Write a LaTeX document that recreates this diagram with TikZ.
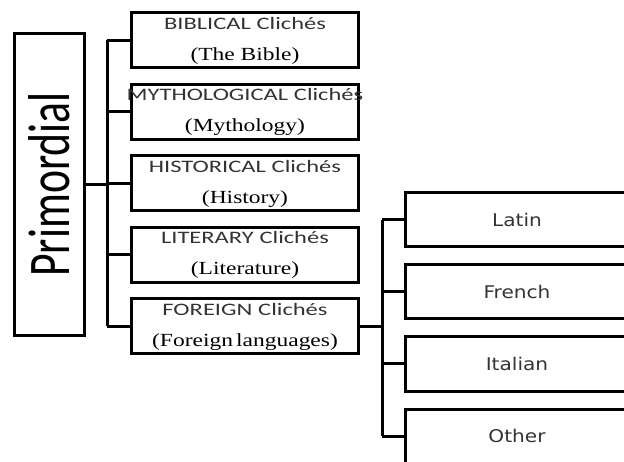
\documentclass[tikz,border=0pt]{standalone}
\usepackage{fontspec}
\setmainfont{Liberation Serif}
\newfontfamily\headfont[FakeStretch=1.4]{Carlito}
\newfontfamily\subfont[FakeStretch=1.27]{Liberation Serif}
\newfontfamily\langfont[FakeStretch=1.15]{DejaVu Sans}
\newfontfamily\primfont[FakeStretch=0.74]{Carlito}
\usetikzlibrary{positioning}

\begin{document}
\begin{tikzpicture}[
    x=1pt, y=-1pt,
    line width=3pt,
    node distance=13.5pt,
    root/.style  ={draw, minimum width=70pt, minimum height=302pt, inner sep=0pt},
    cat/.style   ={draw, text width=227pt, minimum height=55pt, inner sep=0pt,
                   align=center, font=\headfont\fontsize{17.5}{31}\selectfont\color{black!80}},
    lang/.style  ={draw, minimum width=223pt, minimum height=54pt, inner sep=0pt,
                   font=\langfont\fontsize{17.5}{20}\selectfont\color{black!80}},
    link/.style  ={line width=3pt},
  ]
  \useasboundingbox (0,0) rectangle (624,462);
  \clip (0,0) rectangle (624,462);

  % ------------------------------------------------------------- root ---
  \node[root] (prim) at (49.5,184.5)
        {\rotatebox{90}{\primfont\fontsize{59}{59}\selectfont Primordial}};

  % ------------------------------------------------------- categories ---
  \node[cat] (bib) at (245,40.5)
        {BIBLICAL Clichés\\{\subfont\fontsize{18.5}{31}\selectfont\color{black}(The Bible)}};
  \node[cat, below=of bib] (myth)
        {\hbox to 227pt{\hss MYTHOLOGICAL Clichés\hss}\\{\subfont\fontsize{18.5}{31}\selectfont\color{black}(Mythology)}};
  \node[cat, below=of myth] (hist)
        {HISTORICAL Clichés\\{\subfont\fontsize{18.5}{31}\selectfont\color{black}(History)}};
  \node[cat, below=of hist] (lit)
        {LITERARY Clichés\\{\subfont\fontsize{18.5}{31}\selectfont\color{black}(Literature)}};
  \node[cat, below=of lit] (for)
        {FOREIGN Clichés\\{\subfont\fontsize{18.5}{31}\selectfont\color{black}(Foreign\,languages)}};

  % -------------------------------------------------------- languages ---
  \node[lang] (latin) at (517,220) {Latin};
  \node[lang, below=15pt of latin]  (french)  {French};
  \node[lang, below=15pt of french] (italian) {Italian};
  \node[lang, below=15pt of italian] (other)  {Other};

  % ===================================================== edges ================
  \coordinate (spine)  at (107,0);
  \coordinate (spineb) at (382,0);

  % root -> categories
  \draw[link] (prim.east) -- (prim.east -| spine);
  \draw[link] (bib.west -| spine) -- (for.west -| spine);
  \foreach \n in {bib,myth,hist,lit,for}
    \draw[link] (\n.west) -- (\n.west -| spine);

  % foreign -> languages
  \draw[link] (for.east) -- (for.east -| spineb);
  \draw[link] (latin.west -| spineb) -- (other.west -| spineb);
  \foreach \n in {latin,french,italian,other}
    \draw[link] (\n.west) -- (\n.west -| spineb);

\end{tikzpicture}
\end{document}
